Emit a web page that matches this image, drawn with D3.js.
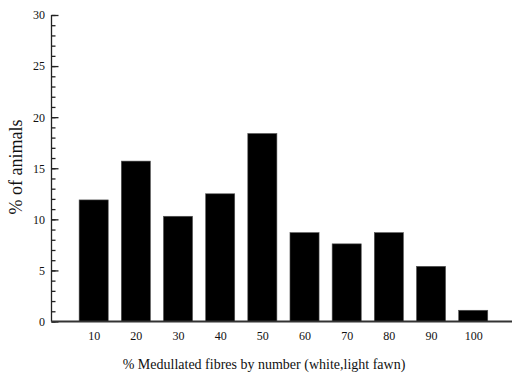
<!DOCTYPE html>
<html>
<head>
<meta charset="utf-8">
<script src="https://cdn.jsdelivr.net/npm/d3@7"></script>
<style>
  html, body { margin: 0; padding: 0; background: #fff; }
  svg { display: block; }
  svg text { font-family: "Liberation Serif", "Times New Roman", serif !important; fill: #111; }
</style>
</head>
<body>
<svg id="chart" width="513" height="376"></svg>
<script>
// Share of animals by percentage of medullated fibres (white, light fawn)
const categories = [10, 20, 30, 40, 50, 60, 70, 80, 90, 100];
const percentAnimals = [11.9, 15.7, 10.3, 12.5, 18.4, 8.7, 7.6, 8.7, 5.4, 1.1];
const yMajorTicks = [0, 5, 10, 15, 20, 25, 30];
const yMinorTicks = d3.range(0, 31, 1);

const plotLeft = 51.5, plotRight = 512, plotTop = 15, plotBottom = 321.5;

const svg = d3.select("#chart");

const x = d3.scaleLinear().domain([0, 109.2]).range([plotLeft, plotRight]);
const y = d3.scaleLinear().domain([0, 30]).range([plotBottom, plotTop]);
const barW = x(6.9) - x(0);

// bars
svg.append("g").selectAll("rect")
  .data(categories.map((c, i) => ({ c, v: percentAnimals[i] })))
  .join("rect")
  .attr("x", d => x(d.c) - barW / 2)
  .attr("y", d => y(d.v))
  .attr("width", barW)
  .attr("height", d => y(0) - y(d.v))
  .attr("fill", "#000")
  .attr("stroke", "#555")
  .attr("stroke-width", 0.6);

// y axis: minor ticks pointing inward
const yMinor = svg.append("g").attr("transform", `translate(${plotLeft},0)`)
  .call(d3.axisRight(y).tickValues(yMinorTicks).tickSize(4).tickFormat(""));
yMinor.select(".domain").remove();

const yAxis = svg.append("g").attr("transform", `translate(${plotLeft},0)`)
  .call(d3.axisRight(y).tickValues(yMajorTicks).tickSize(7).tickFormat(d3.format("d")));
yAxis.select(".domain").attr("d", `M0,${plotTop}V${plotBottom}`);
yAxis.selectAll("text")
  .attr("x", -6.5).attr("text-anchor", "end")
  .style("font-size", "12px");

svg.selectAll(".tick line, .domain").attr("stroke", "#222").attr("stroke-width", 1.3);

// x axis
const xAxis = svg.append("g").attr("transform", `translate(0,${plotBottom})`)
  .call(d3.axisBottom(x).tickValues(categories).tickSize(0).tickPadding(10).tickFormat(d3.format("d")));
xAxis.select(".domain").attr("d", `M${plotLeft},0H${plotRight}`).attr("stroke", "#333").attr("stroke-width", 1.8);
xAxis.selectAll("text").style("font-size", "12px");

// axis titles
svg.append("text")
  .attr("x", 264).attr("y", 369)
  .attr("text-anchor", "middle")
  .style("font-size", "14px")
  .text("% Medullated fibres by number (white,light fawn)");

svg.append("text")
  .attr("transform", "translate(22,167) rotate(-90)")
  .attr("text-anchor", "middle")
  .style("font-size", "18px")
  .text("% of animals");
</script>
</body>
</html>
